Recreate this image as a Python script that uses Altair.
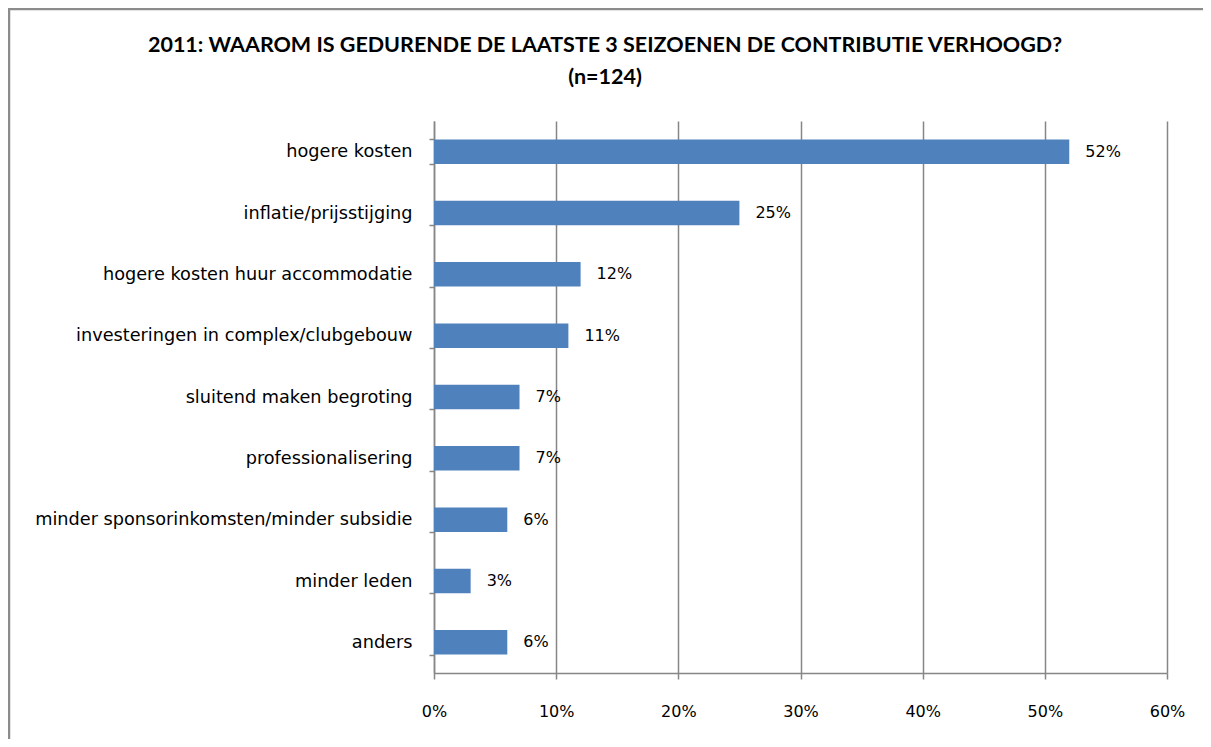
import altair as alt
import pandas as pd

categories = [
    "hogere kosten",
    "inflatie/prijsstijging",
    "hogere kosten huur accommodatie",
    "investeringen in complex/clubgebouw",
    "sluitend maken begroting",
    "professionalisering",
    "minder sponsorinkomsten/minder subsidie",
    "minder leden",
    "anders",
]
values = [52, 25, 12, 11, 7, 7, 6, 3, 6]
x_ticks = [0, 10, 20, 30, 40, 50, 60]
title_lines = [
    "2011: WAAROM IS GEDURENDE DE LAATSTE 3 SEIZOENEN DE CONTRIBUTIE VERHOOGD?",
    "(n=124)",
]

df = pd.DataFrame({"cat": categories, "val": values, "lbl": [f"{v}%" for v in values]})

FONT = "DejaVu Sans"
TFONT = "Lato"
GRAY = "#868686"

y = alt.Y(
    "cat:N",
    sort=categories,
    title=None,
    scale=alt.Scale(paddingInner=0.6, paddingOuter=0.3),
    axis=alt.Axis(
        tickBand="extent",
        labelFont=FONT,
        labelFontSize=17.7,
        labelColor="black",
        labelPadding=17,
        labelLimit=600,
        tickSize=5,
        tickColor=GRAY,
        tickWidth=1.5,
        domainColor=GRAY,
        domainWidth=1.5,
        grid=False,
    ),
)
x = alt.X(
    "val:Q",
    title=None,
    scale=alt.Scale(domain=[0, 60], nice=False),
    axis=alt.Axis(
        values=x_ticks,
        labelExpr="datum.value + '%'",
        labelFont=FONT,
        labelFontSize=16,
        labelColor="black",
        labelPadding=24,
        labelFlush=False,
        tickSize=6,
        tickColor=GRAY,
        tickWidth=1.5,
        domainColor=GRAY,
        domainWidth=1.5,
        grid=True,
        gridColor=GRAY,
        gridWidth=1.5,
    ),
)

base = alt.Chart(df)
bars = base.mark_bar(color="#4F81BD").encode(x=x, y=y)
text = base.mark_text(align="left", baseline="middle", dx=16, font=FONT, fontSize=16, color="black").encode(
    x=alt.X("val:Q"), y=alt.Y("cat:N", sort=categories), text="lbl:N"
)

title_df = pd.DataFrame({"t": [title_lines[0]]})
title1 = alt.Chart(title_df).mark_text(
    font=TFONT, fontSize=21.5, fontWeight="bold", color="black", align="center", baseline="middle"
).encode(x=alt.value(171), y=alt.value(-75), text="t:N")
title_df2 = pd.DataFrame({"t": [title_lines[1]]})
title2 = alt.Chart(title_df2).mark_text(
    font=TFONT, fontSize=21.5, fontWeight="bold", color="black", align="center", baseline="middle"
).encode(x=alt.value(171), y=alt.value(-43), text="t:N")

one = pd.DataFrame({"a": [0]})
frame_top = alt.Chart(one).mark_rule(color="#8c8c8c", strokeWidth=2.5).encode(
    x=alt.value(-426), x2=alt.value(770), y=alt.value(-112)
)
frame_left = alt.Chart(one).mark_rule(color="#8c8c8c", strokeWidth=2.5).encode(
    x=alt.value(-425), y=alt.value(-113), y2=alt.value(619)
)

chart = (
    alt.layer(bars, text, title1, title2, frame_top, frame_left)
    .properties(
        width=733,
        height=552,
        padding={"left": 426, "top": 113, "right": 36, "bottom": 66},
        autosize=alt.AutoSizeParams(type="none"),
    )
    .configure_view(stroke=None)
)

chart.save("out.html", embed_options={"renderer": "svg", "actions": False})
